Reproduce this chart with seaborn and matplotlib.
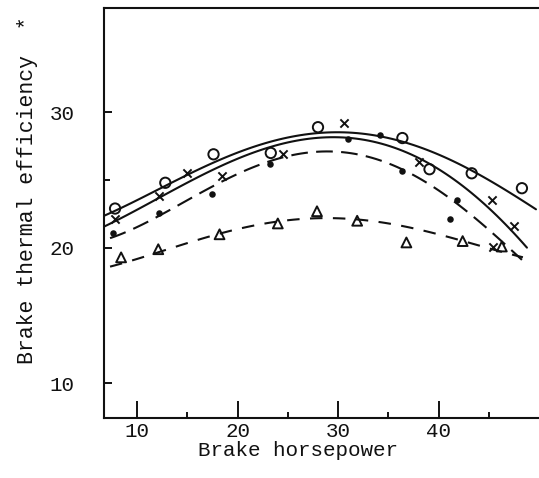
import matplotlib
matplotlib.use("Agg")
import matplotlib.pyplot as plt
import seaborn as sns

# Measured points: brake horsepower vs brake thermal efficiency (%)
hp_circle = [7.8, 12.8, 17.6, 23.3, 28.0, 36.4, 39.1, 43.3, 48.3]
eff_circle = [22.9, 24.8, 26.9, 27.0, 28.9, 28.1, 25.8, 25.5, 24.4]

hp_cross = [7.8, 12.2, 15.0, 18.4, 24.5, 30.6, 38.1, 45.3, 45.4, 47.5]
eff_cross = [22.1, 23.8, 25.5, 25.3, 26.9, 29.2, 26.3, 23.5, 20.1, 21.6]

hp_dot = [7.6, 12.2, 17.4, 23.2, 31.0, 34.2, 36.4, 41.1, 41.8]
eff_dot = [21.1, 22.6, 24.0, 26.2, 28.0, 28.3, 25.7, 22.1, 23.5]

hp_tri = [8.4, 12.1, 18.2, 24.0, 27.9, 31.9, 36.8, 42.4, 46.3]
eff_tri = [19.3, 19.9, 21.0, 21.8, 22.7, 22.0, 20.4, 20.5, 20.1]

# Faired curves through each series
curve_hp_circle = [6.7, 10, 15, 20, 25, 30, 35, 40, 45, 49.7]
curve_eff_circle = [22.3, 23.6, 25.5, 26.9, 28.0, 28.6, 28.3, 26.8, 24.9, 22.9]

curve_hp_cross = [6.7, 10, 15, 20, 25, 30, 35, 40, 45, 48.8]
curve_eff_cross = [21.5, 22.9, 24.9, 26.5, 27.6, 28.2, 27.8, 25.7, 22.8, 20.1]

curve_hp_dot = [7.3, 10, 15, 20, 25, 30, 35, 40, 45, 48.3]
curve_eff_dot = [20.6, 21.7, 23.6, 25.3, 26.6, 27.3, 26.3, 24.2, 21.2, 19.2]

curve_hp_tri = [7.3, 10, 15, 20, 25, 28, 32, 36, 40, 44, 48.4]
curve_eff_tri = [18.6, 19.2, 20.4, 21.3, 22.0, 22.3, 22.1, 21.6, 21.0, 20.2, 19.3]

x_ticks = [10, 20, 30, 40]
y_ticks = [10, 20, 30]

sns.set_style("ticks")
plt.rcParams["font.family"] = ["Liberation Mono", "DejaVu Sans Mono"]

fig = plt.figure(figsize=(5.39, 4.78), dpi=100)
ax = fig.add_axes([0.193, 0.1255, 0.807, 0.858])

ink = "#111111"
series = [
    (hp_circle, eff_circle, curve_hp_circle, curve_eff_circle, "o",
     dict(s=55, facecolors="none", edgecolors=ink, linewidths=1.4), "-"),
    (hp_cross, eff_cross, curve_hp_cross, curve_eff_cross, "x",
     dict(s=35, color=ink, linewidths=1.4), "-"),
    (hp_dot, eff_dot, curve_hp_dot, curve_eff_dot, "o",
     dict(s=22, color=ink, linewidths=0), (0, (8, 4))),
    (hp_tri, eff_tri, curve_hp_tri, curve_eff_tri, "^",
     dict(s=50, facecolors="none", edgecolors=ink, linewidths=1.4), (0, (6, 5))),
]

for hp, eff, chp, ceff, marker, mkw, ls in series:
    # smooth polynomial fairing of the curve readings
    sns.regplot(x=chp, y=ceff, order=4, ci=None, scatter=False, truncate=True, ax=ax,
                line_kws=dict(color=ink, lw=1.5, linestyle=ls))
    sns.scatterplot(x=hp, y=eff, marker=marker, ax=ax, legend=False, **mkw)

ax.set_xlim(6.7, 50.0)
ax.set_ylim(7.45, 37.7)

ax.set_xticks(x_ticks)
ax.set_xticks([15, 25, 35, 45], minor=True)
ax.set_yticks(y_ticks)
ax.set_yticks([25], minor=True)
ax.tick_params(axis="both", which="major", direction="in", color=ink,
               labelsize=15, labelcolor=ink, width=1.4)
ax.tick_params(axis="x", which="major", length=12, pad=3)
ax.tick_params(axis="y", which="major", length=6, pad=21)
ax.tick_params(axis="both", which="minor", direction="in", length=4, width=1.4, color=ink)

for side in ["left", "bottom", "top"]:
    ax.spines[side].set_color(ink)
    ax.spines[side].set_linewidth(1.5)
ax.spines["right"].set_visible(False)

ax.set_xlabel("Brake horsepower", fontsize=15, color=ink)
ax.xaxis.set_label_coords(0.446, -0.056)
ax.set_ylabel("Brake thermal efficiency  *", fontsize=15.5, color=ink)
ax.yaxis.set_label_coords(-0.152, 0.555)

fig.savefig("out.png", dpi=100)
